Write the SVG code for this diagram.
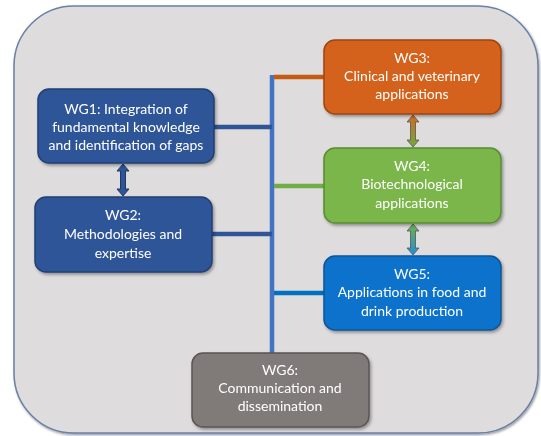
<svg xmlns="http://www.w3.org/2000/svg" width="541" height="436" viewBox="0 0 541 436">
<defs>
<style>
.box{stroke-width:1.5}
.t{font-family:Lato,"Liberation Sans",sans-serif;font-size:14px;fill:#ffffff;text-anchor:middle}
.bus{fill:none;stroke-width:4.5}
</style>
<filter id="sh" x="-10%" y="-10%" width="125%" height="130%">
<feDropShadow dx="1.5" dy="2" stdDeviation="1.5" flood-color="#000" flood-opacity="0.35"/>
</filter>
<filter id="fsh" x="-5%" y="-5%" width="110%" height="110%">
<feDropShadow dx="1" dy="1.5" stdDeviation="1" flood-color="#000" flood-opacity="0.4"/>
</filter>
<linearGradient id="g34" x1="0" y1="0" x2="0" y2="1"><stop offset="0" stop-color="#D4691E"/><stop offset="1" stop-color="#6FAA3E"/></linearGradient>
<linearGradient id="g45" x1="0" y1="0" x2="0" y2="1"><stop offset="0" stop-color="#6FB04A"/><stop offset="1" stop-color="#1F8FD8"/></linearGradient>
</defs>
<rect x="14" y="6" width="524" height="427" rx="60" fill="#DEDCDC" stroke="#6A80A8" stroke-width="1.5" filter="url(#fsh)"/>
<g id="connectors">
<line class="bus" x1="272" y1="75" x2="272" y2="354" stroke="#4472C4"/>
<line class="bus" x1="214" y1="127" x2="272" y2="127" stroke="#2F5597"/>
<line class="bus" x1="212" y1="234" x2="272" y2="234" stroke="#2F5597"/>
<line class="bus" x1="274" y1="77" x2="325" y2="77" stroke="#C55A11"/>
<line class="bus" x1="274" y1="186" x2="325" y2="186" stroke="#70AD47"/>
<line class="bus" x1="274" y1="293" x2="325" y2="293" stroke="#0070C0"/>
<path d="M123 164 L129 171 L125.5 171 L125.5 189 L129 189 L123 196 L117 189 L120.5 189 L120.5 171 L117 171 Z" fill="#2F5597" stroke="#1F3864" stroke-width="1"/>
<path d="M413 115 L419 122 L415.5 122 L415.5 140 L419 140 L413 147 L407 140 L410.5 140 L410.5 122 L407 122 Z" fill="url(#g34)" stroke="#555" stroke-width="0.8"/>
<path d="M413 224 L419 231 L415.5 231 L415.5 248 L419 248 L413 255 L407 248 L410.5 248 L410.5 231 L407 231 Z" fill="url(#g45)" stroke="#555" stroke-width="0.8"/>
</g>
<g id="wg1" filter="url(#sh)">
<rect class="box" x="38" y="89" width="176" height="74" rx="11" fill="#2F5597" stroke="#203F73"/>
<text class="t" x="126" y="114">WG1: Integration of</text>
<text class="t" x="126" y="132">fundamental knowledge</text>
<text class="t" x="126" y="150">and identification of gaps</text>
</g>
<g id="wg2" filter="url(#sh)">
<rect class="box" x="35" y="197" width="177" height="75" rx="11" fill="#2F5597" stroke="#203F73"/>
<text class="t" x="123" y="220">WG2:</text>
<text class="t" x="123" y="239">Methodologies and</text>
<text class="t" x="123" y="258">expertise</text>
</g>
<g id="wg3" filter="url(#sh)">
<rect class="box" x="324" y="40" width="177" height="74" rx="11" fill="#D4621A" stroke="#9E4510"/>
<text class="t" x="412" y="63">WG3:</text>
<text class="t" x="412" y="81">Clinical and veterinary</text>
<text class="t" x="412" y="99">applications</text>
</g>
<g id="wg4" filter="url(#sh)">
<rect class="box" x="324" y="148" width="177" height="75" rx="11" fill="#7AB648" stroke="#5A8C33"/>
<text class="t" x="412" y="171">WG4:</text>
<text class="t" x="412" y="189">Biotechnological</text>
<text class="t" x="412" y="208">applications</text>
</g>
<g id="wg5" filter="url(#sh)">
<rect class="box" x="324" y="256" width="177" height="74" rx="11" fill="#0A72CC" stroke="#0A5496"/>
<text class="t" x="412" y="279">WG5:</text>
<text class="t" x="412" y="297">Applications in food and</text>
<text class="t" x="412" y="316">drink production</text>
</g>
<g id="wg6" filter="url(#sh)">
<rect class="box" x="192" y="353" width="177" height="74" rx="11" fill="#807A79" stroke="#5A5656"/>
<text class="t" x="280" y="375">WG6:</text>
<text class="t" x="280" y="393">Communication and</text>
<text class="t" x="280" y="411">dissemination</text>
</g>
</svg>
